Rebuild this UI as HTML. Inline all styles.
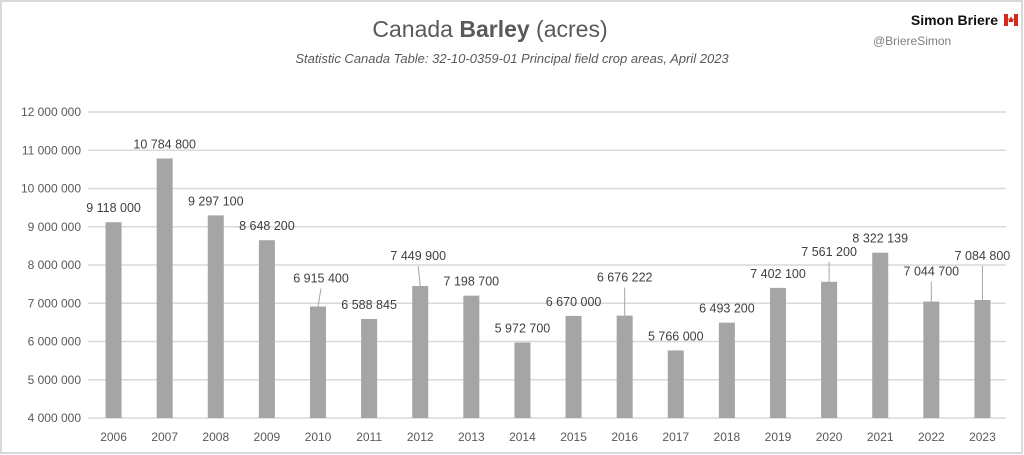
<!DOCTYPE html>
<html><head><meta charset="utf-8"><style>
body{margin:0;background:#fff}
#wrap{position:relative;width:1024px;height:455px;overflow:hidden;font-family:"Liberation Sans",sans-serif}
svg text{font-family:"Liberation Sans",sans-serif}
</style></head><body>
<div id="wrap">
<svg id="chart" width="1024" height="455">
<rect x="1" y="1" width="1021" height="452" fill="#fff" stroke="#d9d9d9" stroke-width="2"/>
<text x="490" y="37" text-anchor="middle" font-size="23" fill="#595959">Canada <tspan font-weight="bold">Barley</tspan> (acres)</text>
<text x="512" y="63" text-anchor="middle" font-size="13" font-style="italic" fill="#595959">Statistic Canada Table: 32-10-0359-01 Principal field crop areas, April 2023</text>
<text x="998" y="25" text-anchor="end" font-size="14" font-weight="bold" fill="#111">Simon Briere</text>
<g><rect x="1004" y="14" width="4" height="12" fill="#d52b1e"/><rect x="1008" y="14" width="6" height="12" fill="#fff"/><rect x="1014" y="14" width="4" height="12" fill="#d52b1e"/><path d="M1011 16 l1.3 3 1.3-1 -0.5 4 -2.1 0 -2.1 0 -0.5-4 1.3 1z" fill="#d52b1e"/></g>
<text x="873" y="45" font-size="12" fill="#7f7f7f">@BriereSimon</text>
<g id="grid"></g><g id="bars"></g><g id="labels"></g>
</svg>
</div>
<script>
const categories=["2006","2007","2008","2009","2010","2011","2012","2013","2014","2015","2016","2017","2018","2019","2020","2021","2022","2023"];
const values=[9118000,10784800,9297100,8648200,6915400,6588845,7449900,7198700,5972700,6670000,6676222,5766000,6493200,7402100,7561200,8322139,7044700,7084800];
const yTicks=[4000000,5000000,6000000,7000000,8000000,9000000,10000000,11000000,12000000];
const labelRaise=[10,10,10,10,24,10,26,10,10,10,34,10,10,10,26,10,26,40];
const labelShiftX=[0,0,0,0,3,0,-2,0,0,0,0,0,0,0,0,0,0,0];
const NS="http://www.w3.org/2000/svg";
const yMin=4000000,yMax=12000000,y0=418,y1=112;
const xL=88,xR=1008;
function y(v){return y0-(v-yMin)/(yMax-yMin)*(y0-y1);}
const step=(xR-xL)/categories.length;
function x(i){return xL+step*(i+0.5);}
function fmt(v){return String(v).replace(/\B(?=(\d{3})+(?!\d))/g," ");}
function mk(tag,attrs,parent){const e=document.createElementNS(NS,tag);for(const k in attrs)e.setAttribute(k,attrs[k]);parent.appendChild(e);return e;}
const grid=document.getElementById('grid'),bars=document.getElementById('bars'),labels=document.getElementById('labels');
yTicks.forEach(t=>{
 const l=mk('line',{x1:xL,x2:xR-2,y1:y(t),y2:y(t),stroke:'#d9d9d9','stroke-width':1.5},grid);
 
 
 const tx=mk('text',{x:81,y:y(t)+4,'text-anchor':'end','font-size':12,fill:'#595959'},grid);
 tx.textContent=fmt(t);
 
 
});
categories.forEach((c,i)=>{
 const cx=x(i),top=y(values[i]);
 const b=mk('rect',{x:cx-8,y:top,width:16,height:y0-top,fill:'#a5a5a5'},bars);
 
 
 const xt=mk('text',{x:cx,y:y0+23,'text-anchor':'middle','font-size':12,fill:'#595959'},labels);
 xt.textContent=c;
 
 
 const r=labelRaise[i];
 if(r>12){
  const ln=mk('line',{x1:cx,y1:top,x2:cx+labelShiftX[i],y2:top-r+6,stroke:'#a6a6a6','stroke-width':1},labels);
  
  
 }
 const t=mk('text',{x:cx+labelShiftX[i],y:top-r,'text-anchor':'middle','font-size':12.5,fill:'#404040'},labels);
 t.textContent=fmt(values[i]);
 
 
});
</script>
</body></html>
